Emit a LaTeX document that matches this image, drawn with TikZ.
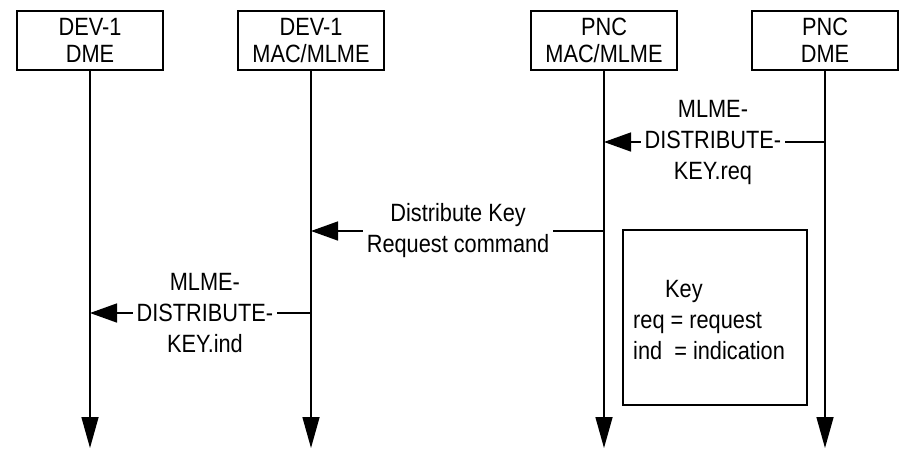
\documentclass[tikz,border=0pt]{standalone}
\usepackage{fontspec}
\setmainfont{Liberation Sans}[FakeStretch=0.87]
\usetikzlibrary{arrows.meta}
\begin{document}
\begin{tikzpicture}[x=1pt,y=-1pt,
  hdr/.style={draw,line width=1.5pt,minimum width=146pt,minimum height=59pt,inner sep=0pt,align=center,font=\fontsize{25}{27}\selectfont},
  life/.style={line width=1.5pt,-{Triangle[length=31pt,width=17pt]}},
  msg/.style={line width=1.5pt,-{Triangle[length=27pt,width=19pt]}},
  lbl/.style={fill=white,inner sep=3.5pt,align=center,font=\fontsize{25}{31}\selectfont},
  keybox/.style={draw,line width=1.5pt,minimum width=184pt,minimum height=175pt,inner sep=0pt},
  keytext/.style={inner sep=0pt,align=left,font=\fontsize{25}{31}\selectfont}
]
\useasboundingbox (0,0) rectangle (903,451);
% headers
\node[hdr] (b1) at (90,40.5) {DEV-1\\DME};
\node[hdr] (b2) at (311,40.5) {DEV-1\\MAC/MLME};
\node[hdr] (b3) at (604,40.5) {PNC\\MAC/MLME};
\node[hdr] (b4) at (825,40.5) {PNC\\DME};
% lifeline ends
\coordinate (yend) at (0,448);
\draw[life] (b1.south) -- (b1.south |- yend);
\draw[life] (b2.south) -- (b2.south |- yend);
\draw[life] (b3.south) -- (b3.south |- yend);
\draw[life] (b4.south) -- (b4.south |- yend);
% messages
\coordinate (y1) at (0,142);
\coordinate (y2) at (0,231);
\coordinate (y3) at (0,313);
\draw[msg] (b4.south |- y1) -- node[lbl,pos=0.507] (t1) {MLME-\\DISTRIBUTE-\\KEY.req} (b3.south |- y1);
\draw[msg] (b3.south |- y2) -- node[lbl,pos=0.498] (t2) {Distribute Key\\Request command} (b2.south |- y2);
\draw[msg] (b2.south |- y3) -- node[lbl,pos=0.48] (t3) {MLME-\\DISTRIBUTE-\\KEY.ind} (b1.south |- y3);
% key
\node[keybox] (kb) at (715,317.5) {};
\node[keytext,anchor=west] (kt) at (633,320) {\hspace*{32pt}Key\\req = request\\ind\ \ = indication};
\end{tikzpicture}
\end{document}
